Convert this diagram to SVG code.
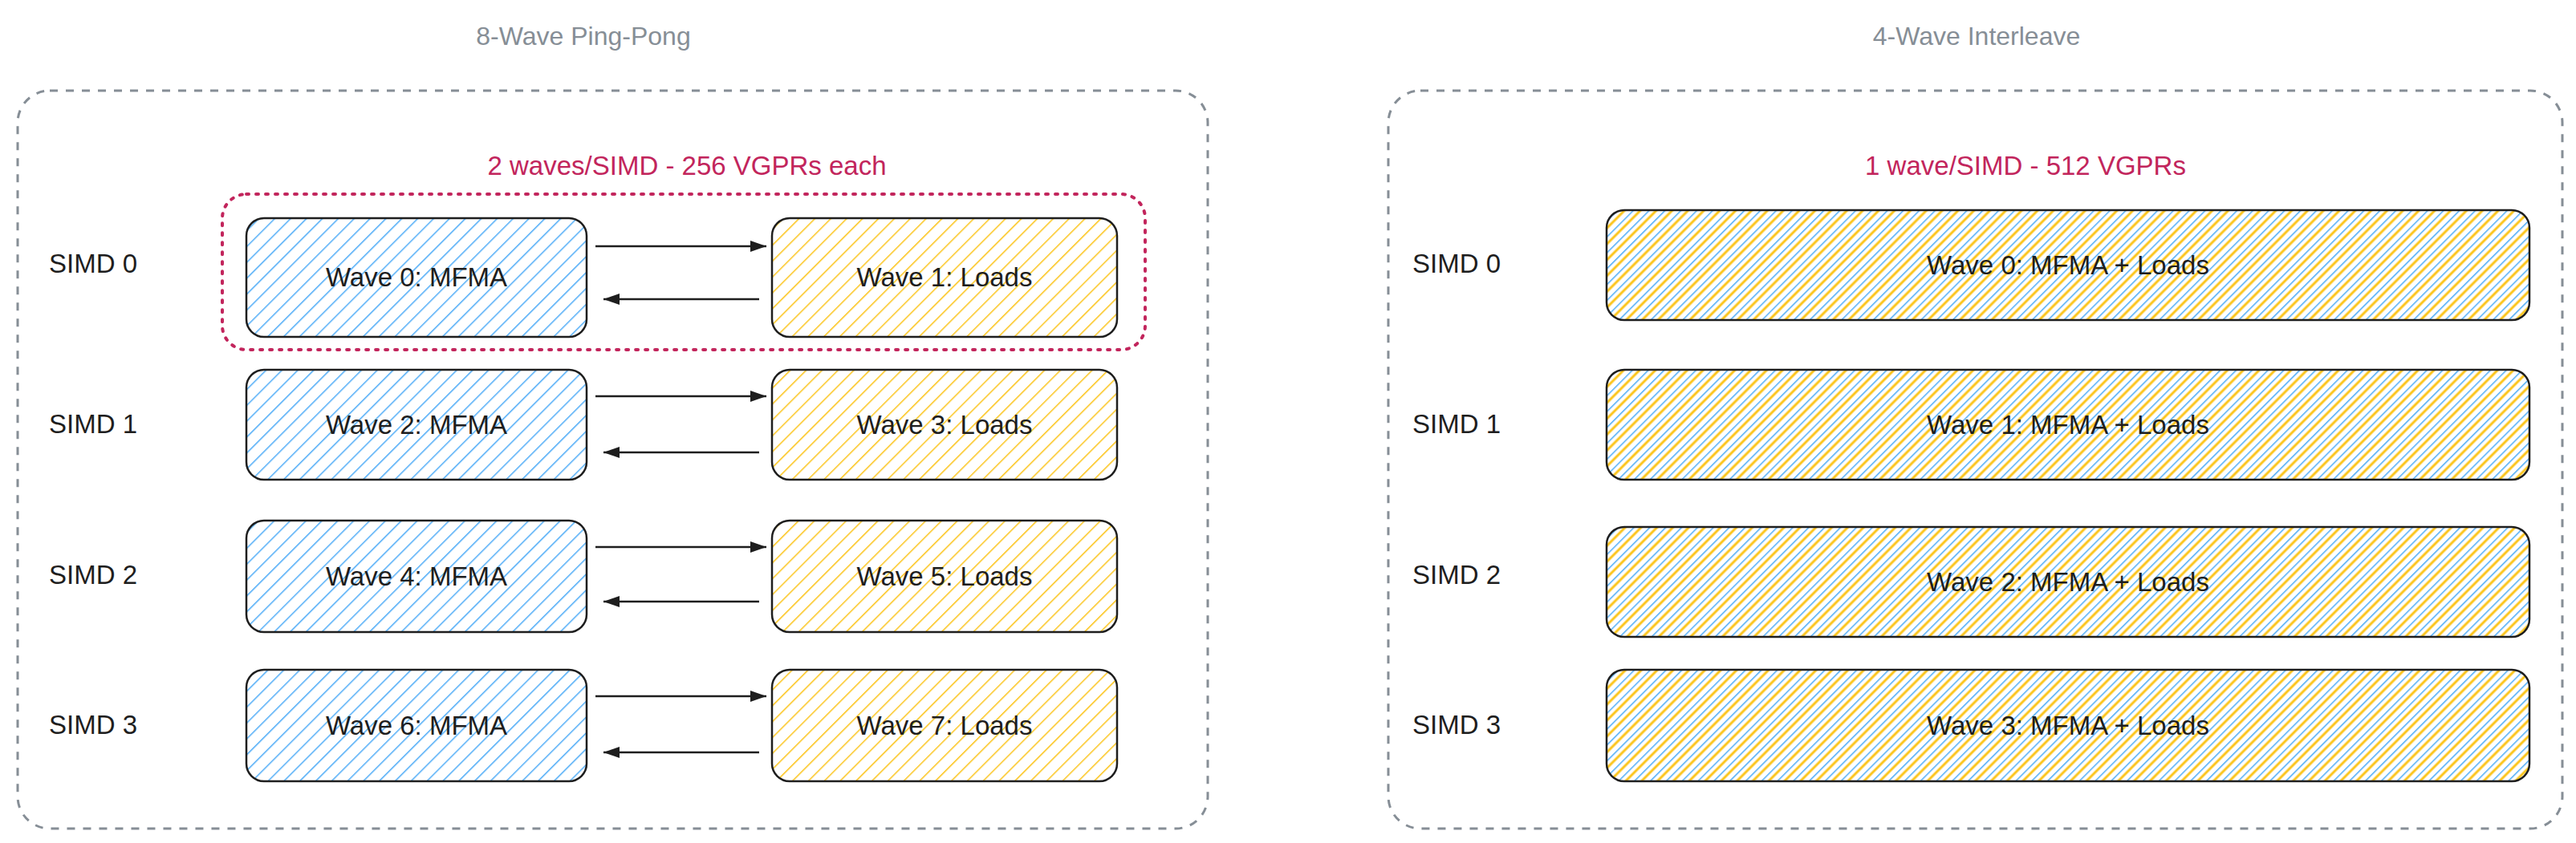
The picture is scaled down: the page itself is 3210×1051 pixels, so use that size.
<svg xmlns="http://www.w3.org/2000/svg" width="3210" height="1051" viewBox="0 0 3210 1051">
<defs>
<style>
text{font-family:"Liberation Sans",sans-serif;font-size:33px;fill:#1e1e1e}
.title{fill:#868e96;font-size:32px}
.pink{fill:#c2255c}
.cont{fill:none;stroke:#868e96;stroke-width:3;stroke-dasharray:10 10}
.box{stroke:#1e1e1e;stroke-width:2.5}
.b{fill:url(#hb)}
.o{fill:url(#ho)}
.conn{stroke:#1e1e1e;stroke-width:2.5;fill:none;marker-end:url(#ah)}
</style>
<pattern id="hb" patternUnits="userSpaceOnUse" width="14" height="14" patternTransform="rotate(45)"><rect width="14" height="14" fill="#fff"/><line x1="0" y1="0" x2="0" y2="14" stroke="#4dabf7" stroke-width="3"/></pattern>
<pattern id="ho" patternUnits="userSpaceOnUse" width="14" height="14" patternTransform="rotate(45)"><rect width="14" height="14" fill="#fff"/><line x1="0" y1="0" x2="0" y2="14" stroke="#fcc419" stroke-width="3"/></pattern>
<pattern id="hm" patternUnits="userSpaceOnUse" width="14" height="14" patternTransform="rotate(45)"><rect width="14" height="14" fill="#fff"/><line x1="0" y1="0" x2="0" y2="14" stroke="#4dabf7" stroke-width="3"/><line x1="7" y1="0" x2="7" y2="14" stroke="#fcc419" stroke-width="3"/></pattern>
<marker id="ah" viewBox="0 0 20 14" refX="20" refY="7" markerWidth="20" markerHeight="14" markerUnits="userSpaceOnUse" orient="auto"><path d="M0,0 L20,7 L0,14 z" fill="#1e1e1e"/></marker>
</defs>
<g id="left-panel">
<text class="title" x="727" y="56" text-anchor="middle">8-Wave Ping-Pong</text>
<rect class="cont" x="22" y="113" width="1483" height="920" rx="40"/>
<text class="pink" x="856" y="218" text-anchor="middle">2 waves/SIMD - 256 VGPRs each</text>
<rect x="277" y="242" width="1150" height="194" rx="30" fill="none" stroke="#c2255c" stroke-width="4" stroke-dasharray="3 9" stroke-linecap="round"/>
</g>
<g id="simd-labels-left">
<text x="61" y="340">SIMD 0</text><text x="61" y="540">SIMD 1</text><text x="61" y="728">SIMD 2</text><text x="61" y="915">SIMD 3</text>
</g>
<g id="w0"><rect class="box b" x="307" y="272" width="424" height="148" rx="22"/><text x="519" y="357" text-anchor="middle">Wave 0: MFMA</text></g>
<g id="w1"><rect class="box o" x="962" y="272" width="430" height="148" rx="22"/><text x="1177" y="357" text-anchor="middle">Wave 1: Loads</text></g>
<g id="w2"><rect class="box b" x="307" y="461" width="424" height="137" rx="22"/><text x="519" y="541" text-anchor="middle">Wave 2: MFMA</text></g>
<g id="w3"><rect class="box o" x="962" y="461" width="430" height="137" rx="22"/><text x="1177" y="541" text-anchor="middle">Wave 3: Loads</text></g>
<g id="w4"><rect class="box b" x="307" y="649" width="424" height="139" rx="22"/><text x="519" y="730" text-anchor="middle">Wave 4: MFMA</text></g>
<g id="w5"><rect class="box o" x="962" y="649" width="430" height="139" rx="22"/><text x="1177" y="730" text-anchor="middle">Wave 5: Loads</text></g>
<g id="w6"><rect class="box b" x="307" y="835" width="424" height="139" rx="22"/><text x="519" y="916" text-anchor="middle">Wave 6: MFMA</text></g>
<g id="w7"><rect class="box o" x="962" y="835" width="430" height="139" rx="22"/><text x="1177" y="916" text-anchor="middle">Wave 7: Loads</text></g>
<g id="connectors">
<line class="conn" x1="742" y1="307" x2="955" y2="307"/><line class="conn" x1="946" y1="373" x2="752" y2="373"/>
<line class="conn" x1="742" y1="494" x2="955" y2="494"/><line class="conn" x1="946" y1="564" x2="752" y2="564"/>
<line class="conn" x1="742" y1="682" x2="955" y2="682"/><line class="conn" x1="946" y1="750" x2="752" y2="750"/>
<line class="conn" x1="742" y1="868" x2="955" y2="868"/><line class="conn" x1="946" y1="938" x2="752" y2="938"/>
</g>
<g id="right-panel">
<text class="title" x="2463" y="56" text-anchor="middle">4-Wave Interleave</text>
<rect class="cont" x="1730" y="113" width="1463" height="920" rx="40"/>
<text class="pink" x="2524" y="218" text-anchor="middle">1 wave/SIMD - 512 VGPRs</text>
<text x="1760" y="340">SIMD 0</text><text x="1760" y="540">SIMD 1</text><text x="1760" y="728">SIMD 2</text><text x="1760" y="915">SIMD 3</text>
</g>
<g id="r0"><rect class="box" fill="url(#hm)" x="2002" y="262" width="1150" height="137" rx="22"/><text x="2577" y="342" text-anchor="middle">Wave 0: MFMA + Loads</text></g>
<g id="r1"><rect class="box" fill="url(#hm)" x="2002" y="461" width="1150" height="137" rx="22"/><text x="2577" y="541" text-anchor="middle">Wave 1: MFMA + Loads</text></g>
<g id="r2"><rect class="box" fill="url(#hm)" x="2002" y="657" width="1150" height="137" rx="22"/><text x="2577" y="737" text-anchor="middle">Wave 2: MFMA + Loads</text></g>
<g id="r3"><rect class="box" fill="url(#hm)" x="2002" y="835" width="1150" height="139" rx="22"/><text x="2577" y="916" text-anchor="middle">Wave 3: MFMA + Loads</text></g>
</svg>
